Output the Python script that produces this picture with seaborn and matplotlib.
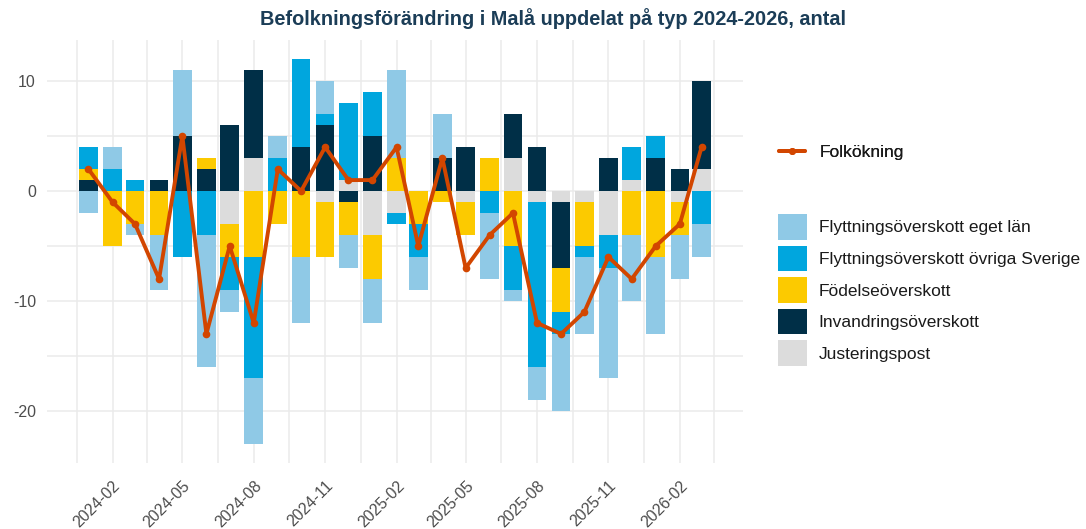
import numpy as np
import pandas as pd
import matplotlib
matplotlib.use("Agg")
import matplotlib.pyplot as plt
import matplotlib.dates as mdates
from matplotlib.patches import Patch
from matplotlib.lines import Line2D
import seaborn as sns

# Data
manader = pd.date_range("2024-01-01", "2026-03-01", freq="MS")
eget_lan = [-2, 2, -1, -5, 6, -12, -2, -6, 2, -6, 3, -3, -4, 8, -3, 4, 0, -6, -1, -3, -7, -7, -10, -6, -7, -4, -3]
ovriga_sverige = [2, 2, 1, 0, -6, -4, -3, -11, 3, 8, 1, 7, 4, -1, -3, 0, 0, -2, -4, -15, -2, -1, -3, 3, 2, 0, -3]
fodelse = [1, -5, -3, -4, 0, 1, -3, -6, -3, -6, -5, -3, -4, 3, -3, -1, -3, 3, -5, 0, -4, -4, 0, -4, -6, -3, 0]
invandring = [1, 0, 0, 1, 5, 2, 6, 8, 0, 4, 6, -1, 5, 0, 0, 3, 4, 0, 4, 4, -6, 0, 3, 0, 3, 2, 8]
justering = [0, 0, 0, 0, 0, 0, -3, 3, 0, 0, -1, 1, -4, -2, 0, 0, -1, 0, 3, -1, -1, -1, -4, 1, 0, -1, 2]
folkokning = [2, -1, -3, -8, 5, -13, -5, -12, 2, 0, 4, 1, 1, 4, -5, 3, -7, -4, -2, -12, -13, -11, -6, -8, -5, -3, 4]

serier = ["Flyttningsöverskott eget län", "Flyttningsöverskott övriga Sverige",
          "Födelseöverskott", "Invandringsöverskott", "Justeringspost"]
farger = ["#8FC9E6", "#00A6DE", "#FCCA00", "#002F47", "#DCDCDC"]
varden = [eget_lan, ovriga_sverige, fodelse, invandring, justering]

sns.set_theme(style="white")
plt.rcParams["font.family"] = ["Liberation Sans", "DejaVu Sans"]
plt.rcParams["axes.unicode_minus"] = False

fig = plt.figure(figsize=(10.86, 5.29), dpi=100)
ax = fig.add_axes([47 / 1086, 1 - 463 / 529, 696 / 1086, 423 / 529])

x = mdates.date2num(manader)
bredd = 24

# stapla från noll och utåt: justeringspost närmast noll, eget län längst ut
pos_bas = np.zeros(len(x))
neg_bas = np.zeros(len(x))
for namn, farg, v in reversed(list(zip(serier, farger, varden))):
    v = np.array(v, dtype=float)
    pos = np.where(v > 0, v, 0)
    neg = np.where(v < 0, v, 0)
    ax.bar(x, pos, bottom=pos_bas, width=bredd, color=farg, linewidth=0, zorder=2)
    ax.bar(x, neg, bottom=neg_bas, width=bredd, color=farg, linewidth=0, zorder=2)
    pos_bas += pos
    neg_bas += neg

linjefarg = "#D24600"
sns.lineplot(x=x, y=folkokning, ax=ax, color=linjefarg, linewidth=2.8, marker="o",
             markersize=5.5, markeredgewidth=0, zorder=3, legend=False)

# axlar
ax.set_xlim(x.min() - 53.4, x.max() + 53.4)
ax.set_ylim(-24.75, 13.75)
ax.set_yticks([-20, -10, 0, 10])
ax.set_yticks([-15, -5, 5], minor=True)
major = pd.date_range("2024-02-01", "2026-02-01", freq="3MS")
ax.set_xticks(mdates.date2num(major))
ax.set_xticklabels([d.strftime("%Y-%m") for d in major])
minor_x = [(mdates.date2num(a) + mdates.date2num(b)) / 2 for a, b in
           zip(pd.date_range("2023-11-01", "2026-02-01", freq="3MS"),
               pd.date_range("2024-02-01", "2026-05-01", freq="3MS"))]
ax.set_xticks(minor_x, minor=True)

ax.grid(True, which="major", color="#EBEBEB", linewidth=1.1, zorder=0)
ax.grid(True, which="minor", color="#EBEBEB", linewidth=1.1, zorder=0)
ax.set_axisbelow(True)
for s in ax.spines.values():
    s.set_visible(False)
ax.tick_params(axis="both", which="both", length=0, labelsize=11.5, labelcolor="#4D4D4D")
ax.tick_params(axis="y", pad=8)
ax.tick_params(axis="x", pad=11)
for lbl in ax.get_xticklabels():
    lbl.set_rotation(45)
    lbl.set_ha("right")
    lbl.set_va("top")
    lbl.set_rotation_mode("anchor")
ax.set_xlabel("")
ax.set_ylabel("")

fig.text(0.509, 0.965, "Befolkningsförändring i Malå uppdelat på typ 2024-2026, antal",
         ha="center", va="center", fontsize=14.3, fontweight="bold", color="#1B3D57")

# legender
leg1 = fig.legend(handles=[Line2D([0], [0], color=linjefarg, lw=2.8, marker="o",
                                  markersize=5, markeredgewidth=0)],
                  labels=["Folkökning"], loc="center left",
                  bbox_to_anchor=(779 / 1086, 1 - 152 / 529), frameon=False,
                  fontsize=12.5, handlelength=1.5, handletextpad=0.85, borderpad=0,
                  borderaxespad=0, labelcolor="#1A1A1A")
fig.add_artist(leg1)
handtag = [Patch(facecolor=f, edgecolor="none") for f in farger]
fig.legend(handles=handtag, labels=serier, loc="center left",
           bbox_to_anchor=(778 / 1086, 1 - 290 / 529), frameon=False,
           fontsize=12.5, handlelength=1.65, handleheight=1.9, handletextpad=0.7,
           labelspacing=0.34, borderpad=0, borderaxespad=0, labelcolor="#1A1A1A")

fig.savefig("out.png", dpi=100)
